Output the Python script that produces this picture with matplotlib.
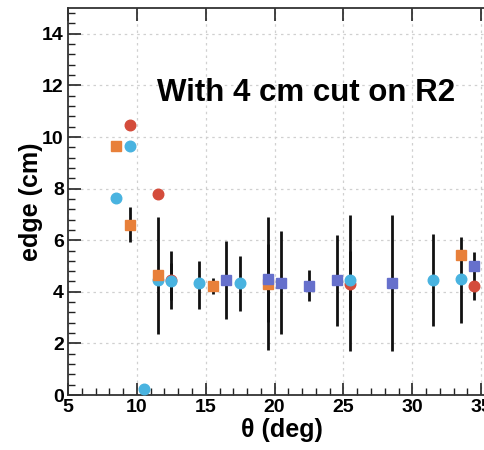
import numpy as np
import matplotlib
matplotlib.use("Agg")
import matplotlib.pyplot as plt
from matplotlib.ticker import MultipleLocator

# ---------------------------------------------------------
# data (theta in deg, edge in cm)
# error bars given as (upper, lower) limits, nan = no bar
# ---------------------------------------------------------
nan = np.nan

red_x = [9.5, 11.5, 12.5, 25.5, 34.5]
red_y = [10.45, 7.8, 4.45, 4.3, 4.23]
red_hi = [nan, nan, 5.1, 5.6, nan]
red_lo = [nan, nan, 3.7, 3.3, nan]

blue_x = [8.5, 9.5, 10.5, 11.5, 12.5, 14.5, 17.5, 25.5, 31.5, 33.5]
blue_y = [7.65, 9.65, 0.24, 4.45, 4.41, 4.34, 4.36, 4.44, 4.44, 4.49]
blue_hi = [nan, nan, nan, nan, 5.57, 5.2, 5.4, 6.99, 6.23, 6.14]
blue_lo = [nan, nan, nan, nan, 3.32, 3.35, 3.24, 1.71, 2.66, 2.79]

orange_x = [8.5, 9.5, 11.5, 15.5, 19.5, 33.5]
orange_y = [9.65, 6.6, 4.65, 4.23, 4.3, 5.44]
orange_hi = [9.8, 7.3, 6.91, 4.55, 5.87, nan]
orange_lo = [9.5, 5.92, 2.35, 3.9, 2.82, nan]

slate_x = [16.5, 19.5, 20.5, 22.5, 24.5, 28.5, 34.5]
slate_y = [4.44, 4.49, 4.36, 4.23, 4.44, 4.36, 5.0]
slate_hi = [5.95, 6.91, 6.34, 4.83, 6.2, 6.99, 5.53]
slate_lo = [2.93, 1.74, 2.35, 3.63, 2.66, 1.71, 3.7]

series = [
    (red_x, red_y, red_hi, red_lo, "o", "#d44c3b"),
    (blue_x, blue_y, blue_hi, blue_lo, "o", "#49b3e0"),
    (orange_x, orange_y, orange_hi, orange_lo, "s", "#e8803a"),
    (slate_x, slate_y, slate_hi, slate_lo, "s", "#6670cc"),
]

plt.rcParams['font.family'] = ['Liberation Sans', 'DejaVu Sans']
plt.rcParams['font.weight'] = 'bold'

fig = plt.figure(figsize=(4.85, 4.5), dpi=100)
# axis runs past the right edge, the reference is cropped at theta = 35
ax = fig.add_axes([68/485, 55/450, 427/485, 387/450])

# --- error bars (behind markers) ---
for x, y, hi, lo, m, c in series:
    x = np.array(x); hi = np.array(hi); lo = np.array(lo)
    ok = ~np.isnan(hi)
    ax.vlines(x[ok], lo[ok], hi[ok], color='#111111', lw=2.0, zorder=2)

# --- markers ---
for k, (x, y, hi, lo, m, c) in enumerate(series):
    ms = 7.6 if m == "o" else 7.8
    ax.plot(x, y, ls='none', marker=m, ms=ms, color=c, mec=c, zorder=3 + k)

ax.set_xlim(5, 36)
ax.set_ylim(0, 15)
ax.xaxis.set_major_locator(MultipleLocator(5))
ax.xaxis.set_minor_locator(MultipleLocator(1))
ax.yaxis.set_major_locator(MultipleLocator(2))
ax.yaxis.set_minor_locator(MultipleLocator(0.4))

ax.grid(True, which='major', ls=(0, (2, 3)), color='#d0d0d0', lw=0.9)
ax.set_axisbelow(True)

ax.tick_params(which='major', direction='in', length=9, width=1.2, top=True, labelsize=14, colors='#222222', pad=3)
ax.tick_params(which='minor', direction='in', length=5, width=1.0, top=False, colors='#222222')
for lab in ax.get_xticklabels() + ax.get_yticklabels():
    lab.set_fontweight('bold')
    lab.set_color('black')
for s in ax.spines.values():
    s.set_linewidth(1.3)
    s.set_color('#333333')

ax.set_xlabel("θ (deg)", fontsize=18, fontweight='bold', labelpad=1)
ax.set_ylabel("edge (cm)", fontsize=18, fontweight='bold', labelpad=-1)

ax.text(22.3, 11.4, "With 4 cm cut on R2", ha='center', va='baseline',
        fontsize=22.5, fontweight='bold', color='black')

fig.savefig("out.png", dpi=100)
